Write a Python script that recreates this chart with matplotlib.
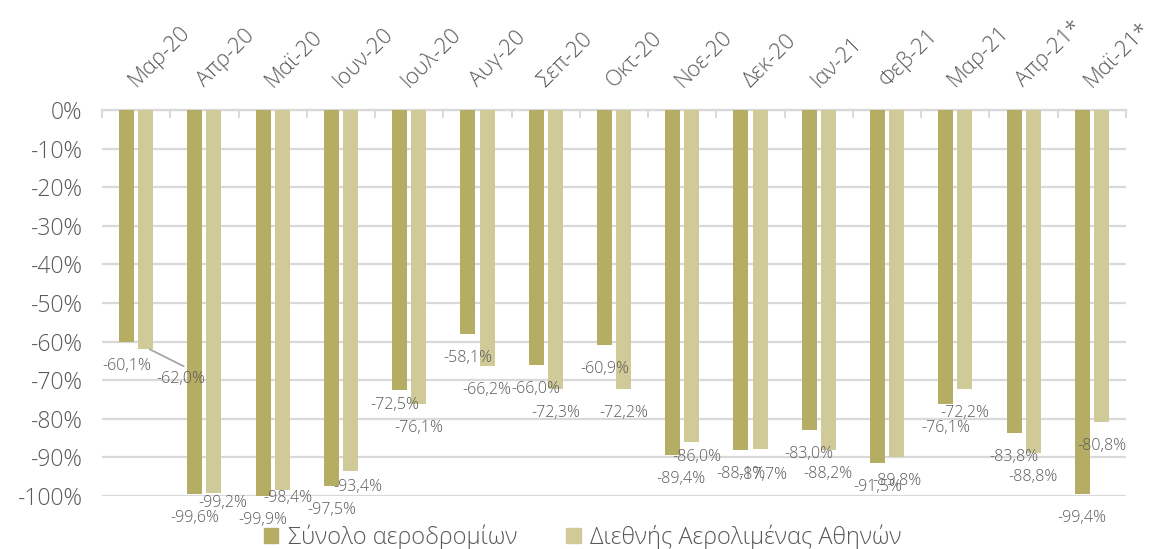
import matplotlib
matplotlib.use("Agg")
import matplotlib.pyplot as plt
import numpy as np
from matplotlib.patches import Patch

categories = ['Μαρ-20', 'Απρ-20', 'Μαϊ-20', 'Ιουν-20', 'Ιουλ-20', 'Αυγ-20', 'Σεπ-20',
              'Οκτ-20', 'Νοε-20', 'Δεκ-20', 'Ιαν-21', 'Φεβ-21', 'Μαρ-21', 'Απρ-21*', 'Μαϊ-21*']
total_airports = [-60.1, -99.6, -99.9, -97.5, -72.5, -58.1, -66.0, -60.9, -89.4, -88.1,
                  -83.0, -91.5, -76.1, -83.8, -99.4]
athens_airport = [-62.0, -99.2, -98.4, -93.4, -76.1, -66.2, -72.3, -72.2, -86.0, -87.7,
                  -88.2, -89.8, -72.2, -88.8, -80.8]
series_names = ['Σύνολο αεροδρομίων', 'Διεθνής Αερολιμένας Αθηνών']
yticks = list(range(0, -101, -10))

plt.rcParams['font.family'] = ['Open Sans', 'DejaVu Sans']
FW = 'light'
DARK = '#b5ad64'
LIGHT = '#cfca98'
TXT = '#595959'
GRID = '#d9d9d9'

fig = plt.figure(figsize=(11.54, 5.49), dpi=100)
ax = fig.add_axes([102/1154, 1-496/549, 1024/1154, 386/549])

x = np.arange(len(categories))
w = 0.22
off = 0.14
b1 = ax.bar(x - off, total_airports, width=w, color=DARK, zorder=3)
b2 = ax.bar(x + off, athens_airport, width=w, color=LIGHT, zorder=3)

ax.set_xlim(-0.5, len(categories) - 0.5)
ax.set_ylim(-100, 0)
ax.set_yticks(yticks)
ax.set_yticklabels([f'{v}%' for v in yticks], fontsize=16.5, color=TXT, fontweight=FW)
ax.tick_params(axis='y', length=0, pad=14)
ax.yaxis.grid(True, color=GRID, linewidth=1.6, zorder=0)
for s in ['left', 'right', 'bottom']:
    ax.spines[s].set_visible(False)
ax.spines['top'].set_color(GRID)
ax.spines['top'].set_linewidth(1.6)

ax.xaxis.set_ticks_position('top')
ax.set_xticks(x)
ax.set_xticklabels(categories, rotation=45, ha='left', va='baseline',
                   rotation_mode='anchor', fontsize=15.8, color=TXT, fontweight=FW)
ax.tick_params(axis='x', which='major', length=0, pad=16)
ax.set_xticks(np.arange(-0.5, len(categories)), minor=True)
ax.tick_params(axis='x', which='minor', direction='in', length=6, width=1.4,
               color=GRID, top=True, bottom=False)

def fmt(v):
    return f'{v:.1f}%'.replace('.', ',')

default_off = (0, -24)
adjust = {
    ('t', 4): (-5, -15),
    ('t', 8): (8, -24),
    ('a', 0): (35, -30),
    ('a', 1): (9, -10),
    ('a', 2): (6, -8),
    ('a', 3): (7, -16),
    ('a', 8): (5, -15),
    ('a', 9): (3, -26),
}

for key, bars, vals in [('t', b1, total_airports), ('a', b2, athens_airport)]:
    for i, (bar, v) in enumerate(zip(bars, vals)):
        cx = bar.get_x() + bar.get_width() / 2
        dx, dy = adjust.get((key, i), default_off)
        ax.annotate(fmt(v), xy=(cx, v), xytext=(dx, dy), textcoords='offset pixels',
                    ha='center', va='center', fontsize=11.5, color=TXT,
                    fontweight=FW, annotation_clip=False, zorder=5)
        if (key, i) == ('a', 0):
            ax.annotate('', xy=(cx + 0.06, v), xytext=(dx - 1, dy + 13),
                        textcoords='offset pixels',
                        arrowprops=dict(arrowstyle='-', color='#a6a6a6', lw=1.3,
                                        shrinkA=0, shrinkB=0),
                        annotation_clip=False)

handles = [Patch(color=DARK), Patch(color=LIGHT)]
leg = fig.legend(handles, series_names, loc='center', bbox_to_anchor=(0.505, 0.022),
                 ncol=2, frameon=False, handlelength=0.6, handleheight=0.6,
                 columnspacing=2.1, handletextpad=0.4,
                 prop={'size': 17, 'weight': FW})
for t in leg.get_texts():
    t.set_color(TXT)

fig.savefig('out.png', dpi=100)
